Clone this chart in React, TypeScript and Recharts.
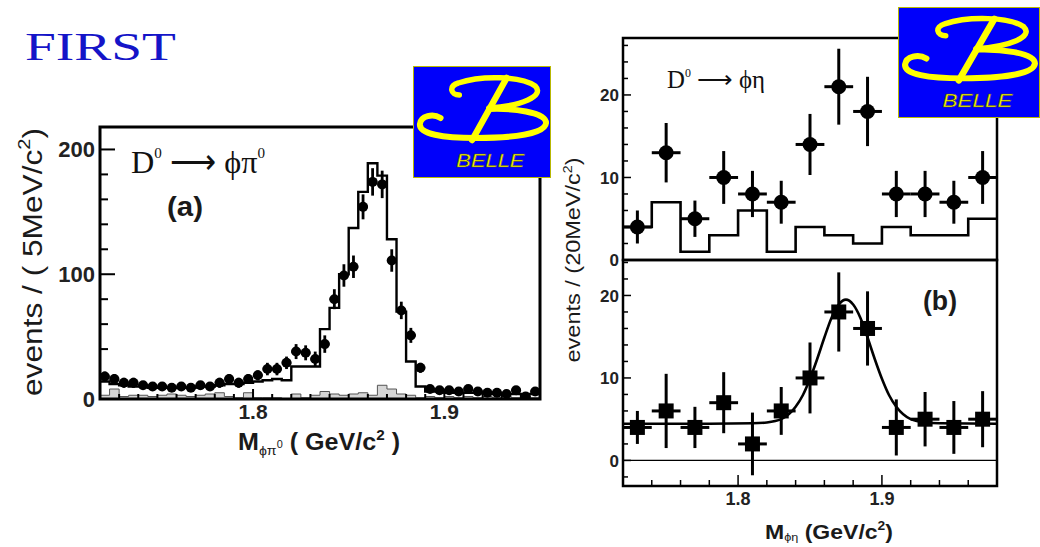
import {
  Area,
  ComposedChart,
  ErrorBar,
  Line,
  ReferenceArea,
  ReferenceLine,
  Scatter,
  XAxis,
  YAxis,
} from 'recharts'

/* ---------- panel (a): D0 -> phi pi0, 5 MeV bins, 1.72 - 1.95 GeV ---------- */
const A_LO = 1.72
const A_HI = 1.95
const A_BIN = 0.005
const A_YMAX = 218

// data points (events / bin)
const A_DATA = [
  18, 16, 13, 13, 11, 10, 10, 9, 10, 9,
  11, 10, 13, 16, 13, 16, 19, 24, 24, 29,
  38, 37, 32, 44, 80, 99, 106, 154, 174, 172,
  111, 71, 51, 25, 8, 7, 7, 6, 8, 6,
  5, 5, 4, 7, 2, 6,
]
const A_ERR = [
  4, 4, 4, 4, 3, 3, 3, 3, 3, 3,
  3, 3, 4, 4, 4, 4, 4, 5, 5, 5,
  6, 6, 6, 7, 8, 9, 9, 10, 11, 11,
  9, 7, 6, 4, 3, 3, 3, 2, 3, 2,
  2, 2, 2, 3, 2, 2,
]
// open histogram (MC)
const A_MC = [
  14, 12, 11, 10, 10, 9, 9, 9, 9, 9,
  10, 10, 11, 12, 12, 13, 14, 15, 16, 15,
  26, 26, 26, 56, 73, 100, 137, 166, 189, 179,
  128, 70, 30, 10, 6, 6, 5, 5, 5, 5,
  5, 4, 4, 4, 4, 4,
]
// shaded histogram (background)
const A_BKG = [
  3, 8, 2, 3, 3, 2, 3, 4, 3, 2,
  3, 4, 5, 2, 1, 5, 1, 1, 1, 0,
  4, 1, 3, 6, 4, 3, 4, 5, 3, 11,
  8, 4, 3, 1, 2, 1, 2, 1, 2, 1,
  2, 1, 2, 1, 2, 1,
]
const A_XTICKS = [
  1.73, 1.74, 1.75, 1.76, 1.77, 1.78, 1.79, 1.8, 1.81, 1.82, 1.83,
  1.84, 1.85, 1.86, 1.87, 1.88, 1.89, 1.9, 1.91, 1.92, 1.93, 1.94,
]
const A_XMAJOR = [1.8, 1.9]
const A_YTICKS = [0, 20, 40, 60, 80, 100, 120, 140, 160, 180, 200]
const A_YMAJOR = [0, 100, 200]

/* ---------- panel (b): D0 -> phi eta, 20 MeV bins, 1.72 - 1.98 GeV ---------- */
const B_LO = 1.72
const B_HI = 1.98
const B_BIN = 0.02
const B_CENTERS = [1.73, 1.75, 1.77, 1.79, 1.81, 1.83, 1.85, 1.87, 1.89, 1.91, 1.93, 1.95, 1.97]
const B_SIG = [4, 13, 5, 10, 8, 7, 14, 21, 18, 8, 8, 7, 10]
const B_SIG_ERR = [2, 3.6, 2.2, 3.2, 2.8, 2.6, 3.7, 4.6, 4.2, 2.8, 2.8, 2.6, 3.2]
const B_SIDE = [4, 7, 1, 3, 6, 1, 4, 3, 2, 4, 3, 3, 5]
const B_SUB = [4, 6, 4, 7, 2, 6, 10, 18, 16, 4, 5, 4, 5]
const B_SUB_ERR = [2, 4.5, 2.5, 3.7, 3.8, 2.9, 4.3, 4.8, 4.5, 3.4, 3.3, 3.2, 3.4]
const FIT_X = [
  1.72, 1.78, 1.81, 1.82, 1.83, 1.84, 1.845, 1.85, 1.855, 1.86, 1.865, 1.87,
  1.875, 1.88, 1.885, 1.89, 1.895, 1.9, 1.905, 1.91, 1.92, 1.93, 1.94, 1.98,
]
const FIT_Y = [
  4.45, 4.45, 4.5, 4.6, 5.0, 6.5, 7.9, 9.9, 12.3, 14.9, 17.3, 18.9,
  19.5, 18.9, 17.3, 14.9, 12.3, 9.9, 7.9, 6.5, 5.0, 4.6, 4.5, 4.45,
]
const B_XTICKS = [1.74, 1.76, 1.78, 1.8, 1.82, 1.84, 1.86, 1.88, 1.9, 1.92, 1.94, 1.96]
const B_XMAJOR = [1.8, 1.9]
const B_TOP_YTICKS = [0, 2, 4, 6, 8, 10, 12, 14, 16, 18, 20, 22, 24, 26]
const B_BOT_YTICKS = [-2, 0, 2, 4, 6, 8, 10, 12, 14, 16, 18, 20, 22, 24]
const B_YMAJOR = [0, 10, 20]

const SANS = '"Liberation Sans", Arial, Helvetica, sans-serif'
const SERIF = '"Liberation Serif", "Times New Roman", serif'

const stepRows = (lo: number, w: number, vals: number[]) => [
  ...vals.map((v, i) => ({ x: lo + i * w, v })),
  { x: lo + vals.length * w, v: vals[vals.length - 1] },
]

const A_ROWS = A_DATA.map((v, i) => ({ x: A_LO + (i + 0.5) * A_BIN, y: v, ey: A_ERR[i], ex: A_BIN / 2 }))
const B_SIG_ROWS = B_CENTERS.map((x, i) => ({ x, y: B_SIG[i], ey: B_SIG_ERR[i], ex: B_BIN / 2 }))
const B_SUB_ROWS = B_CENTERS.map((x, i) => ({ x, y: B_SUB[i], ey: B_SUB_ERR[i], ex: B_BIN / 2 }))
const FIT_ROWS = FIT_X.map((x, i) => ({ x, v: FIT_Y[i] }))

type TickOpts = {
  side: 'left' | 'bottom' | 'top'
  majors: number[]
  majorLen: number
  minorLen: number
  labels?: boolean
  fontSize?: number
  gap?: number
  width?: number
}

const isIn = (v: number, list: number[]) => list.some((m) => Math.abs(m - v) < 1e-6)

// ROOT style ticks: drawn inside the frame, majors longer than minors
const frameTick = (o: TickOpts) => (props: any) => {
  const { x, y, payload } = props
  const v = Number(payload.value)
  const major = isIn(v, o.majors)
  const len = major ? o.majorLen : o.minorLen
  const sw = o.width ?? 1.5
  const showLabel = o.labels && major
  const txt = String(Math.round(v * 10) / 10)
  if (o.side === 'left') {
    return (
      <g>
        <line x1={x} x2={x + len} y1={y} y2={y} stroke="#000" strokeWidth={sw} />
        {showLabel && (
          <text x={x - (o.gap ?? 5)} y={y} dy="0.36em" textAnchor="end" fontFamily={SANS} fontWeight="bold" fontSize={o.fontSize} fill="#222">
            {txt}
          </text>
        )}
      </g>
    )
  }
  if (o.side === 'bottom') {
    return (
      <g>
        <line x1={x} x2={x} y1={y} y2={y - len} stroke="#000" strokeWidth={sw} />
        {showLabel && (
          <text x={x} y={y + (o.gap ?? 18)} textAnchor="middle" fontFamily={SANS} fontWeight="bold" fontSize={o.fontSize} fill="#222">
            {txt}
          </text>
        )}
      </g>
    )
  }
  return <line x1={x} x2={x} y1={y} y2={y + len} stroke="#000" strokeWidth={sw} />
}

const dot = (r: number) => (p: any) => <circle cx={p.cx} cy={p.cy} r={r} fill="#000" />
const square = (s: number) => (p: any) => <rect x={p.cx - s / 2} y={p.cy - s / 2} width={s} height={s} fill="#000" />

const PanelA = () => (
  <ComposedChart width={560} height={370} margin={{ top: 27, right: 20, bottom: 0, left: 40 }}>
    <XAxis
      dataKey="x"
      type="number"
      domain={[A_LO, A_HI]}
      allowDataOverflow
      ticks={A_XTICKS}
      interval={0}
      height={71}
      axisLine={false}
      tickLine={false}
      tickSize={0}
      tickMargin={0}
      tick={frameTick({ side: 'bottom', majors: A_XMAJOR, majorLen: 10, minorLen: 5, labels: true, fontSize: 21, gap: 20, width: 2 })}
    />
    <YAxis
      type="number"
      domain={[0, A_YMAX]}
      allowDataOverflow
      ticks={A_YTICKS}
      interval={0}
      width={60}
      axisLine={false}
      tickLine={false}
      tickSize={0}
      tickMargin={0}
      tick={frameTick({ side: 'left', majors: A_YMAJOR, majorLen: 15, minorLen: 8, labels: true, fontSize: 22, gap: 5, width: 2 })}
    />
    <Area
      data={stepRows(A_LO, A_BIN, A_BKG)}
      dataKey="v"
      type="stepAfter"
      stroke="#555"
      strokeWidth={1}
      fill="#d6d6d6"
      fillOpacity={1}
      baseValue={0}
      dot={false}
      activeDot={false}
      isAnimationActive={false}
    />
    <Line
      data={stepRows(A_LO, A_BIN, A_MC)}
      dataKey="v"
      type="stepAfter"
      stroke="#000"
      strokeWidth={2.4}
      dot={false}
      activeDot={false}
      isAnimationActive={false}
    />
    <Scatter data={A_ROWS} dataKey="y" shape={dot(5)} isAnimationActive={false}>
      <ErrorBar dataKey="ey" direction="y" width={0} stroke="#000" strokeWidth={2.8} />
      <ErrorBar dataKey="ex" direction="x" width={0} stroke="#000" strokeWidth={2.8} />
    </Scatter>
    <ReferenceArea x1={A_LO} x2={A_HI} y1={0} y2={A_YMAX} fill="none" stroke="#000" strokeWidth={3} ifOverflow="visible" />
  </ComposedChart>
)

const PanelBTop = () => (
  <ComposedChart width={520} height={272} margin={{ top: 38, right: 43, bottom: 12, left: 40 }}>
    <XAxis
      dataKey="x"
      type="number"
      domain={[B_LO, B_HI]}
      allowDataOverflow
      ticks={B_XTICKS}
      interval={0}
      height={0}
      axisLine={false}
      tickLine={false}
      tickSize={0}
      tickMargin={0}
      tick={frameTick({ side: 'bottom', majors: B_XMAJOR, majorLen: 9, minorLen: 5, labels: false })}
    />
    <YAxis
      type="number"
      domain={[0, 26.9]}
      allowDataOverflow
      ticks={B_TOP_YTICKS}
      interval={0}
      width={63}
      axisLine={false}
      tickLine={false}
      tickSize={0}
      tickMargin={0}
      tick={frameTick({ side: 'left', majors: B_YMAJOR, majorLen: 8, minorLen: 5, labels: true, fontSize: 17, gap: 4 })}
    />
    <Line
      data={stepRows(B_LO, B_BIN, B_SIDE)}
      dataKey="v"
      type="stepAfter"
      stroke="#000"
      strokeWidth={2.6}
      dot={false}
      activeDot={false}
      isAnimationActive={false}
    />
    <Scatter data={B_SIG_ROWS} dataKey="y" shape={dot(7.5)} isAnimationActive={false}>
      <ErrorBar dataKey="ey" direction="y" width={0} stroke="#000" strokeWidth={3} />
      <ErrorBar dataKey="ex" direction="x" width={0} stroke="#000" strokeWidth={3} />
    </Scatter>
    <ReferenceArea x1={B_LO} x2={B_HI} y1={0} y2={26.9} fill="none" stroke="#000" strokeWidth={2.5} ifOverflow="visible" />
  </ComposedChart>
)

const PanelBBottom = () => (
  <ComposedChart width={520} height={297} margin={{ top: 10, right: 43, bottom: 0, left: 40 }}>
    <XAxis
      dataKey="x"
      type="number"
      domain={[B_LO, B_HI]}
      allowDataOverflow
      ticks={B_XTICKS}
      interval={0}
      height={61}
      axisLine={false}
      tickLine={false}
      tickSize={0}
      tickMargin={0}
      tick={frameTick({ side: 'bottom', majors: B_XMAJOR, majorLen: 11, minorLen: 6, labels: true, fontSize: 18, gap: 19 })}
    />
    <XAxis
      xAxisId="top"
      orientation="top"
      type="number"
      domain={[B_LO, B_HI]}
      allowDataOverflow
      ticks={B_XTICKS}
      interval={0}
      height={0}
      axisLine={false}
      tickLine={false}
      tickSize={0}
      tickMargin={0}
      tick={frameTick({ side: 'top', majors: [], majorLen: 5, minorLen: 5 })}
    />
    <YAxis
      type="number"
      domain={[-3.1, 24.3]}
      allowDataOverflow
      ticks={B_BOT_YTICKS}
      interval={0}
      width={63}
      axisLine={false}
      tickLine={false}
      tickSize={0}
      tickMargin={0}
      tick={frameTick({ side: 'left', majors: B_YMAJOR, majorLen: 8, minorLen: 5, labels: true, fontSize: 17, gap: 4 })}
    />
    <ReferenceLine y={0} stroke="#000" strokeWidth={1.2} />
    <Line
      data={FIT_ROWS}
      dataKey="v"
      type="monotone"
      stroke="#000"
      strokeWidth={2.6}
      dot={false}
      activeDot={false}
      isAnimationActive={false}
    />
    <Scatter data={B_SUB_ROWS} dataKey="y" shape={square(15)} isAnimationActive={false}>
      <ErrorBar dataKey="ey" direction="y" width={0} stroke="#000" strokeWidth={3} />
      <ErrorBar dataKey="ex" direction="x" width={0} stroke="#000" strokeWidth={3} />
    </Scatter>
    <ReferenceArea x1={B_LO} x2={B_HI} y1={-3.1} y2={24.3} fill="none" stroke="#000" strokeWidth={2.5} ifOverflow="visible" />
  </ComposedChart>
)

const Belle = ({ x, y, w, h }: { x: number; y: number; w: number; h: number }) => (
  <g transform={`translate(${x},${y}) scale(${w / 140},${h / 112})`}>
    <rect x={0.5} y={0.5} width={139} height={111} fill="#0000fa" stroke="#b9b900" strokeWidth={1} />
    <path d="M 47 29 C 38 29, 36 20, 46 17 C 70 9, 110 10, 124 20 C 134 30, 110 40, 77 42" fill="none" stroke="#ffff00" strokeWidth={5.5} strokeLinecap="round" />
    <path d="M 77 43 C 100 42, 135 46, 135 57 C 134 68, 100 72, 64 72 C 30 72, 6 68, 7 58 C 8 50, 20 47, 28 52" fill="none" stroke="#ffff00" strokeWidth={6} strokeLinecap="round" />
    <path d="M 95 12 L 60 74" stroke="#ffff00" strokeWidth={6.5} strokeLinecap="round" />
    <text x={44} y={101} textLength={69} lengthAdjust="spacingAndGlyphs" fontFamily={SANS} fontStyle="italic" fontSize={19} fill="#ffff00" stroke="#4a4a20" strokeWidth={0.5}>
      BELLE
    </text>
  </g>
)

const Overlay = () => (
  <svg width={1040} height={547} style={{ position: 'absolute', left: 0, top: 0, pointerEvents: 'none' }}>
    <text x={25} y={60} textLength={151} lengthAdjust="spacingAndGlyphs" fontFamily={SERIF} fontSize={40} fill="#1414c8">
      FIRST
    </text>

    {/* panel (a) titles */}
    <text transform="translate(42,262) rotate(-90)" textAnchor="middle" textLength={268} lengthAdjust="spacingAndGlyphs" fontFamily={SANS} fontSize={27} fill="#1a1a1a">
      events / ( 5MeV/c<tspan fontSize={17} dy={-12}>2</tspan><tspan dy={12}>)</tspan>
    </text>
    <text x={238} y={450} textLength={162} lengthAdjust="spacingAndGlyphs" fontFamily={SANS} fontWeight="bold" fontSize={23} fill="#1a1a1a">
      M<tspan fontSize={13} dy={5} fontWeight="normal">ϕπ</tspan><tspan fontSize={10} dy={-7} fontWeight="normal">0</tspan>
      <tspan dy={2}> ( GeV/c</tspan><tspan fontSize={14} dy={-10}>2</tspan><tspan dy={10}> )</tspan>
    </text>
    <text x={131} y={173} textLength={134} lengthAdjust="spacingAndGlyphs" fontFamily={SERIF} fontSize={32} fill="#111">
      D<tspan fontSize={15} dy={-15}>0</tspan><tspan dy={15}> ⟶ ϕπ</tspan><tspan fontSize={15} dy={-15}>0</tspan>
    </text>
    <text x={167} y={216} textLength={36} lengthAdjust="spacingAndGlyphs" fontFamily={SANS} fontWeight="bold" fontSize={28} fill="#1a1a1a">
      (a)
    </text>

    {/* panel (b) titles */}
    <text transform="translate(580,260) rotate(-90)" textAnchor="middle" textLength={205} lengthAdjust="spacingAndGlyphs" fontFamily={SANS} fontSize={20} fill="#1a1a1a">
      events / (20MeV/c<tspan fontSize={12} dy={-8}>2</tspan><tspan dy={8}>)</tspan>
    </text>
    <text x={765} y={539} textLength={128} lengthAdjust="spacingAndGlyphs" fontFamily={SANS} fontWeight="bold" fontSize={20} fill="#1a1a1a">
      M<tspan fontSize={11} dy={2} fontWeight="normal">ϕη</tspan>
      <tspan dy={-2}> (GeV/c</tspan><tspan fontSize={12} dy={-9}>2</tspan><tspan dy={9}>)</tspan>
    </text>
    <text x={667} y={88} textLength={98} lengthAdjust="spacingAndGlyphs" fontFamily={SERIF} fontSize={25} fill="#111">
      D<tspan fontSize={12} dy={-11}>0</tspan><tspan dy={11}> ⟶ ϕη</tspan>
    </text>
    <text x={923} y={310} textLength={34} lengthAdjust="spacingAndGlyphs" fontFamily={SANS} fontWeight="bold" fontSize={27} fill="#1a1a1a">
      (b)
    </text>

    <Belle x={413} y={66} w={138} h={112} />
    <Belle x={898} y={7} w={142} h={111} />
  </svg>
)

export default function App() {
  return (
    <div style={{ position: 'absolute', left: 0, top: 0, width: 1040, height: 547, background: '#fff', overflow: 'hidden' }}>
      <div style={{ position: 'absolute', left: 0, top: 100 }}>
        <PanelA />
      </div>
      <div style={{ position: 'absolute', left: 520, top: 0 }}>
        <PanelBTop />
      </div>
      <div style={{ position: 'absolute', left: 520, top: 250 }}>
        <PanelBBottom />
      </div>
      <Overlay />
    </div>
  )
}
